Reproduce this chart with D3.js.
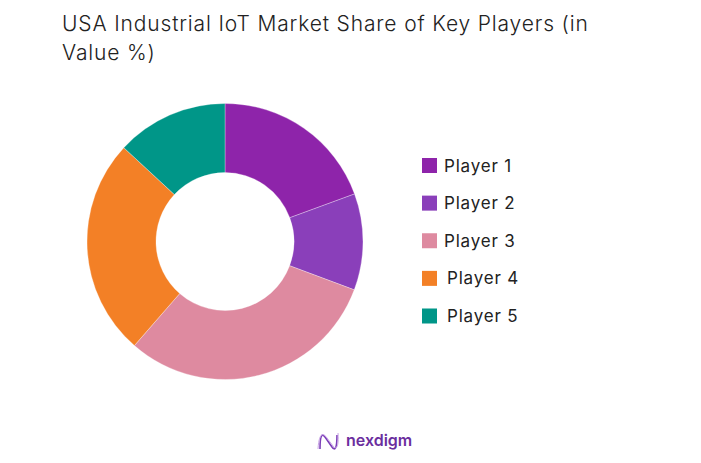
<!DOCTYPE html>
<html>
<head>
<meta charset="utf-8">
<script src="https://cdn.jsdelivr.net/npm/d3@7"></script>
<style>
  body { margin: 0; background: #fff; }
  svg { display: block; }
</style>
</head>
<body>
<svg width="701" height="463"></svg>
<script>
// chart data
const players = ["Player 1", "Player 2", "Player 3", "Player 4", "Player 5"];
const shares = [19.4, 11.3, 30.7, 25.5, 13.1];
const colors = ["#8e24aa", "#8a3fba", "#de8aa0", "#f38026", "#009688"];
const titleLines = ["USA Industrial IoT Market Share of Key Players (in", "Value %)"];

const svg = d3.select("svg"),
    width = +svg.attr("width"),
    height = +svg.attr("height");

svg.append("rect").attr("width", width).attr("height", height).attr("fill", "#fff");

// title
svg.append("text")
    .attr("x", 62)
    .attr("y", 31)
    .attr("font-family", "Inter, 'Noto Sans', sans-serif")
    .attr("font-weight", 300)
    .attr("font-size", 21)
    .attr("letter-spacing", 0.85)
    .attr("fill", "#222")
    .selectAll("tspan")
    .data(titleLines)
    .join("tspan")
    .attr("x", 62)
    .attr("dy", (d, i) => i ? 29 : 0)
    .text(d => d);

// donut
const cx = 225, cy = 241.5, outerR = 138, innerR = 69;

const pie = d3.pie().sort(null).value(d => d);
const arc = d3.arc().innerRadius(innerR).outerRadius(outerR);

const g = svg.append("g").attr("transform", `translate(${cx},${cy})`);
g.selectAll("path")
    .data(pie(shares))
    .join("path")
    .attr("d", arc)
    .attr("fill", (d, i) => colors[i])
    .attr("stroke", "#fff")
    .attr("stroke-width", 0.5)
    .attr("stroke-opacity", 0.6);

// legend
const legY = d3.scalePoint().domain(players).range([165.5, 316]);
const leg = svg.append("g");
const item = leg.selectAll("g")
    .data(players)
    .join("g")
    .attr("transform", d => `translate(422,${legY(d)})`);
item.append("rect")
    .attr("x", 0)
    .attr("y", -7.5)
    .attr("width", 15)
    .attr("height", 15)
    .attr("fill", (d, i) => colors[i]);
item.append("text")
    .attr("x", (d, i) => i >= 3 ? 25 : 22)
    .attr("y", 6)
    .attr("font-family", "Inter, 'Noto Sans', sans-serif")
    .attr("font-size", 17)
    .attr("letter-spacing", 0.8)
    .attr("fill", "#222")
    .text(d => d);

// logo
const logo = svg.append("g").attr("transform", "translate(318,431)");
logo.append("path")
    .attr("d", "M2,18 C2,4 4,2 7,6 L14,16 C17,20 19,18 19,4")
    .attr("fill", "none")
    .attr("stroke", "#7b3fb8")
    .attr("stroke-width", 1.6);
logo.append("path")
    .attr("d", "M0,18 C1,2 5,1 9,7 L15,15 C18,19 21,17 20,2")
    .attr("fill", "none")
    .attr("stroke", "#c9a4e6")
    .attr("stroke-width", 1);
logo.append("text")
    .attr("x", 28)
    .attr("y", 15)
    .attr("font-family", "Inter, 'Noto Sans', sans-serif")
    .attr("font-weight", 600)
    .attr("font-size", 16)
    .attr("fill", "#6b2e9e")
    .text("nexdigm");
</script>
</body>
</html>
